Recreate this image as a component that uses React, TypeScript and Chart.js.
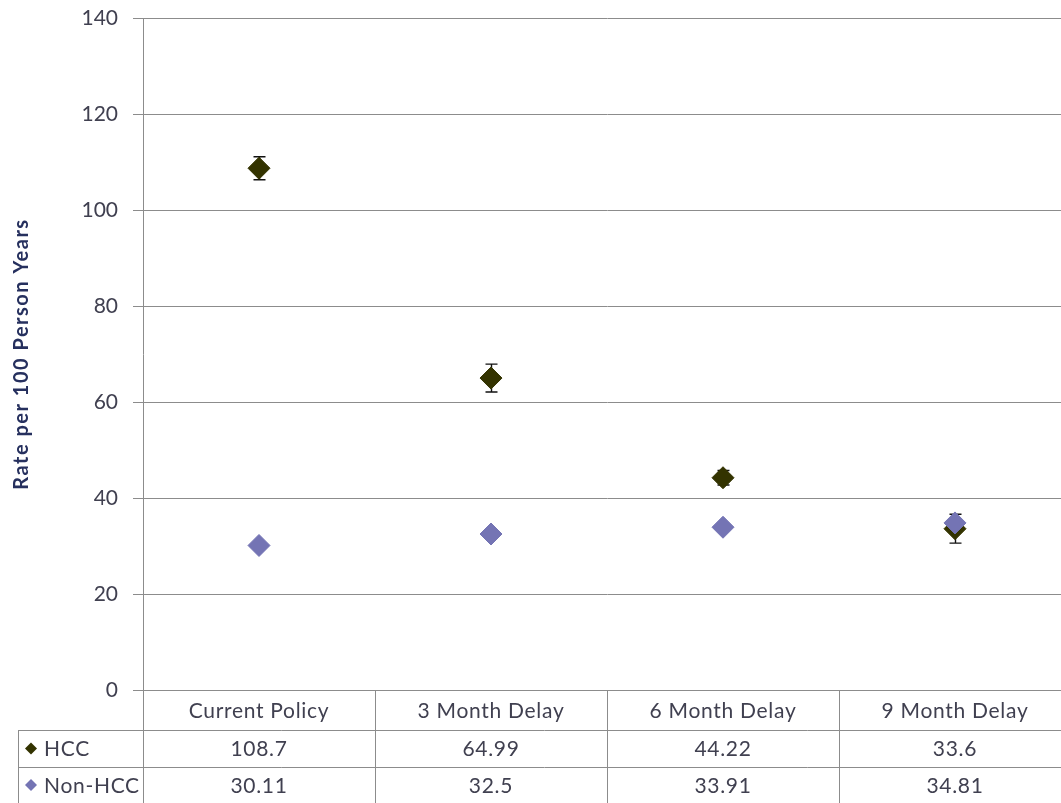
import React, { useEffect, useRef } from 'react';
import { Chart, registerables } from 'chart.js';

Chart.register(...registerables);

const categories = ['Current Policy', '3 Month Delay', '6 Month Delay', '9 Month Delay'];
const hccValues = [108.7, 64.99, 44.22, 33.6];
const nonHccValues = [30.11, 32.5, 33.91, 34.81];
const hccErrors = [2.4, 2.9, 1.5, 3.0];
const seriesNames = ['HCC', 'Non-HCC'];
const yMin = 0;
const yMax = 140;
const yStep = 20;
const yTitle = 'Rate per 100 Person Years';

const HCC_COLOR = '#333300';
const NON_HCC_COLOR = '#7474b4';
const GRID = '#8c8c8c';
const TEXT = '#404050';
const FONT = 'Lato, "Open Sans", sans-serif';

const tablePlugin = {
  id: 'tableAndErrors',
  beforeDatasetsDraw(chart: any) {
    const { ctx, scales } = chart;
    const x = scales.x;
    const y = scales.y;
    ctx.save();
    ctx.strokeStyle = '#111111';
    ctx.lineWidth = 1.4;
    hccValues.forEach((v, i) => {
      const px = Math.round(x.getPixelForValue(i)) + 0.5;
      const top = y.getPixelForValue(v + hccErrors[i]);
      const bot = y.getPixelForValue(v - hccErrors[i]);
      ctx.beginPath();
      ctx.moveTo(px, top);
      ctx.lineTo(px, bot);
      ctx.moveTo(px - 6, top);
      ctx.lineTo(px + 6, top);
      ctx.moveTo(px - 6, bot);
      ctx.lineTo(px + 6, bot);
      ctx.stroke();
    });
    ctx.restore();
  },
  afterDraw(chart: any) {
    const { ctx, chartArea, scales } = chart;
    const x = scales.x;
    const n = categories.length;
    const half = (chartArea.right - chartArea.left) / (2 * n);
    const top = chartArea.bottom;
    const r1 = top + 40;
    const r2 = top + 77;
    const bottom = chart.height;
    const leftEdge = 18;
    ctx.save();
    ctx.strokeStyle = GRID;
    ctx.lineWidth = 1;
    ctx.beginPath();
    [r1, r2].forEach((ry) => {
      ctx.moveTo(leftEdge, Math.round(ry) + 0.5);
      ctx.lineTo(chartArea.right, Math.round(ry) + 0.5);
    });
    ctx.moveTo(leftEdge + 0.5, r1);
    ctx.lineTo(leftEdge + 0.5, bottom);
    ctx.moveTo(Math.round(chartArea.left) + 0.5, top);
    ctx.lineTo(Math.round(chartArea.left) + 0.5, bottom);
    for (let i = 0; i < n; i++) {
      const bx = Math.round(x.getPixelForValue(i) + half) + 0.5;
      ctx.moveTo(bx, top);
      ctx.lineTo(bx, bottom);
    }
    ctx.stroke();

    ctx.fillStyle = TEXT;
    ctx.font = `21px ${FONT}`;
    (ctx as any).letterSpacing = '0.7px';
    ctx.textAlign = 'center';
    ctx.textBaseline = 'middle';
    const rowVals = [hccValues, nonHccValues];
    const rowCenters = [(r1 + r2) / 2, (r2 + bottom) / 2];
    categories.forEach((c, i) => {
      const cx = x.getPixelForValue(i);
      ctx.fillText(c, cx, (top + r1) / 2 + 1);
      rowVals.forEach((vals, k) => {
        ctx.fillText(String(vals[i]), cx, rowCenters[k] + 1);
      });
    });
    const keyColors = [HCC_COLOR, NON_HCC_COLOR];
    seriesNames.forEach((name, k) => {
      const cy = rowCenters[k];
      ctx.fillStyle = keyColors[k];
      ctx.beginPath();
      ctx.moveTo(31, cy - 6);
      ctx.lineTo(37, cy);
      ctx.lineTo(31, cy + 6);
      ctx.lineTo(25, cy);
      ctx.closePath();
      ctx.fill();
      ctx.fillStyle = TEXT;
      ctx.textAlign = 'left';
      ctx.fillText(name, 44, cy + 1);
    });

    ctx.save();
    ctx.translate(22, (chartArea.top + chartArea.bottom) / 2);
    ctx.rotate(-Math.PI / 2);
    ctx.font = `bold 20px ${FONT}`;
    (ctx as any).letterSpacing = '1.5px';
    ctx.fillStyle = '#26305e';
    ctx.textAlign = 'center';
    ctx.textBaseline = 'middle';
    ctx.fillText(yTitle, 0, 0);
    ctx.restore();
    (ctx as any).letterSpacing = '0px';
    ctx.restore();
  },
};

export default function App() {
  const ref = useRef<HTMLCanvasElement>(null);
  useEffect(() => {
    if (!ref.current) return;
    const chart = new Chart(ref.current, {
      type: 'line',
      data: {
        labels: categories,
        datasets: [
          {
            label: seriesNames[0],
            data: hccValues,
            showLine: false,
            pointStyle: 'rectRot',
            pointRadius: 11,
            backgroundColor: HCC_COLOR,
            borderColor: HCC_COLOR,
            borderWidth: 1,
            order: 1,
          },
          {
            label: seriesNames[1],
            data: nonHccValues,
            showLine: false,
            pointStyle: 'rectRot',
            pointRadius: 11,
            backgroundColor: NON_HCC_COLOR,
            borderColor: NON_HCC_COLOR,
            borderWidth: 1,
            order: 0,
          },
        ],
      },
      options: {
        responsive: false,
        animation: false,
        devicePixelRatio: 1,
        layout: { autoPadding: false, padding: { top: 18, right: 1, left: 0, bottom: 0 } },
        plugins: { legend: { display: false }, tooltip: { enabled: false } },
        scales: {
          x: {
            type: 'category',
            offset: true,
            grid: { display: false },
            border: { display: false },
            ticks: { display: false },
            afterFit: (s: any) => {
              s.height = 113;
              s.paddingLeft = 0;
              s.paddingRight = 0;
            },
          },
          y: {
            min: yMin,
            max: yMax,
            ticks: {
              stepSize: yStep,
              padding: 15,
              color: TEXT,
              font: { family: FONT, size: 21 },
            },
            grid: { color: GRID, tickLength: 10, drawTicks: true },
            border: { display: true, color: GRID },
            afterFit: (s: any) => {
              s.width = 143;
              s.paddingTop = 0;
              s.paddingBottom = 0;
            },
          },
        },
      },
      plugins: [tablePlugin],
    } as any);
    return () => chart.destroy();
  }, []);
  return (
    <div
      style={{
        position: 'fixed',
        left: 0,
        top: 0,
        width: 1061,
        height: 803,
        overflow: 'hidden',
        background: '#ffffff',
      }}
    >
      <div style={{ width: 1072, height: 803 }}>
        <canvas ref={ref} width={1072} height={803} style={{ display: 'block', width: 1072, height: 803 }} />
      </div>
    </div>
  );
}
